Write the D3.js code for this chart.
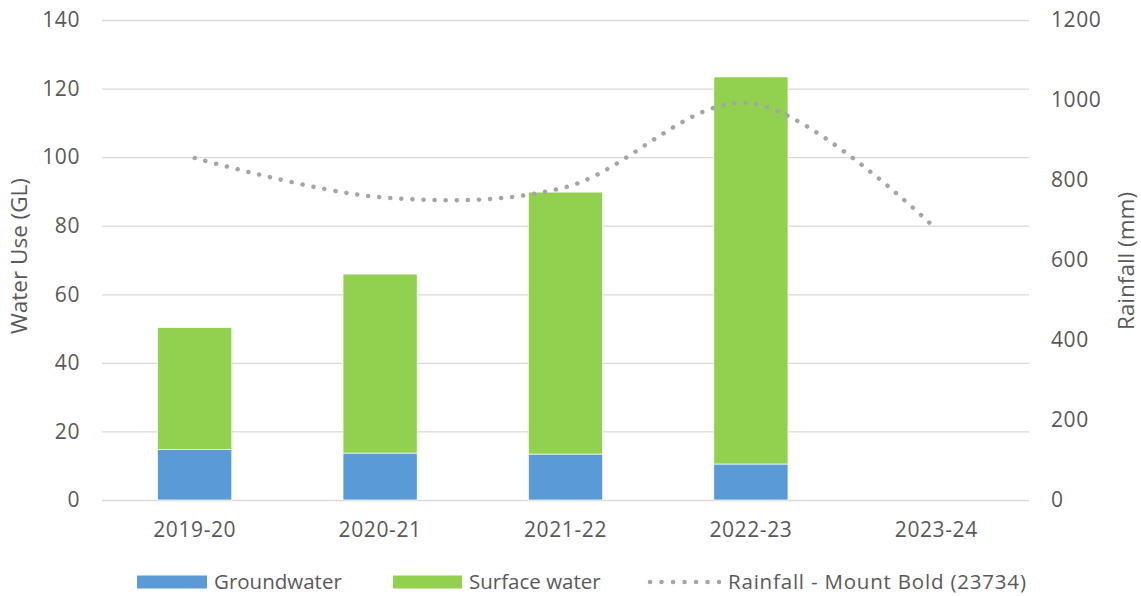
<!DOCTYPE html>
<html>
<head>
<meta charset="utf-8">
<script src="https://cdn.jsdelivr.net/npm/d3@7"></script>
<style>
  html, body { margin: 0; padding: 0; background: #fff; }
  svg text { font-family: "Open Sans", Lato, sans-serif; fill: #595959; }
</style>
</head>
<body>
<svg id="chart" width="1141" height="596"></svg>
<script>
// Water use by source (GL) and annual rainfall at Mount Bold (mm)
const years = ["2019-20", "2020-21", "2021-22", "2022-23", "2023-24"];
const groundwater = [14.7, 13.7, 13.4, 10.5, null];
const surfaceWater = [35.6, 52.2, 76.4, 112.9, null];
const rainfall = [855, 757, 782, 992, 677];
const leftTicks = [0, 20, 40, 60, 80, 100, 120, 140];
const rightTicks = [0, 200, 400, 600, 800, 1000, 1200];

const svg = d3.select("#chart");
const plot = { left: 102, right: 1029, top: 20, bottom: 500 };
const fs = 21;

const x = d3.scaleBand().domain(years).range([plot.left, plot.right]);
const yLeft = d3.scaleLinear().domain([0, 140]).range([plot.bottom, plot.top]);
const yRight = d3.scaleLinear().domain([0, 1200]).range([plot.bottom, plot.top]);
const barW = x.bandwidth() * 0.4;

// gridlines
svg.append("g")
  .attr("transform", `translate(${plot.left},0)`)
  .call(d3.axisLeft(yLeft).tickValues(leftTicks).tickSize(-(plot.right - plot.left)).tickFormat(""))
  .call(g => g.select(".domain").remove())
  .call(g => g.selectAll("line").attr("stroke", "#d9d9d9").attr("stroke-width", 1.3));

const styleTicks = g => g.selectAll("text")
  .attr("font-size", fs).attr("fill", "#595959").attr("letter-spacing", 0.6);

// left axis labels
svg.append("g")
  .attr("transform", `translate(${plot.left - 22},0)`)
  .call(d3.axisLeft(yLeft).tickValues(leftTicks).tickSize(0).tickPadding(0).tickFormat(d3.format("d")))
  .call(g => g.select(".domain").remove())
  .call(styleTicks);

// right axis labels
svg.append("g")
  .attr("transform", `translate(${plot.right + 22},0)`)
  .call(d3.axisRight(yRight).tickValues(rightTicks).tickSize(0).tickPadding(0).tickFormat(d3.format("d")))
  .call(g => g.select(".domain").remove())
  .call(styleTicks);

// category axis labels
svg.append("g")
  .attr("transform", `translate(0,${plot.bottom + 22})`)
  .call(d3.axisBottom(x).tickSize(0).tickPadding(0))
  .call(g => g.select(".domain").remove())
  .call(styleTicks)
  .call(g => g.selectAll("text").attr("dy", "0.71em"));

// stacked bars
const rows = years.map((yr, i) => ({ yr, gw: groundwater[i], sw: surfaceWater[i] }))
  .filter(d => d.gw != null);

svg.append("g").selectAll("rect").data(rows).join("rect")
  .attr("x", d => x(d.yr) + (x.bandwidth() - barW) / 2)
  .attr("width", barW)
  .attr("y", d => yLeft(d.gw))
  .attr("height", d => yLeft(0) - yLeft(d.gw))
  .attr("fill", "#5b9bd5")
  .attr("stroke", "#fff").attr("stroke-width", 0.7);

svg.append("g").selectAll("rect").data(rows).join("rect")
  .attr("x", d => x(d.yr) + (x.bandwidth() - barW) / 2)
  .attr("width", barW)
  .attr("y", d => yLeft(d.gw + d.sw))
  .attr("height", d => yLeft(d.gw) - yLeft(d.gw + d.sw))
  .attr("fill", "#92d050")
  .attr("stroke", "#fff").attr("stroke-width", 0.7);

// rainfall line (smoothed, round dots)
const line = d3.line()
  .x((d, i) => x(years[i]) + x.bandwidth() / 2)
  .y(d => yRight(d))
  .curve(d3.curveCatmullRom.alpha(0));

svg.append("path")
  .datum(rainfall)
  .attr("d", line)
  .attr("fill", "none")
  .attr("stroke", "#a5a5a5")
  .attr("stroke-width", 4.5)
  .attr("stroke-linecap", "round")
  .attr("stroke-dasharray", "0.1 11");

// axis titles
svg.append("text")
  .attr("transform", "translate(27,256) rotate(-90)")
  .attr("text-anchor", "middle")
  .attr("font-size", 22.5)
  .text("Water Use (GL)");

svg.append("text")
  .attr("transform", "translate(1134,261) rotate(-90)")
  .attr("text-anchor", "middle")
  .attr("font-size", 22.5)
  .text("Rainfall (mm)");

// legend
const lg = svg.append("g").attr("transform", "translate(0,582)");
lg.append("rect").attr("x", 137).attr("y", -6.5).attr("width", 70).attr("height", 13).attr("fill", "#5b9bd5");
lg.append("text").attr("x", 214).attr("y", 0).attr("dy", "0.35em").attr("font-size", 20.5)
  .text("Groundwater");
lg.append("rect").attr("x", 393).attr("y", -6.5).attr("width", 69).attr("height", 13).attr("fill", "#92d050");
lg.append("text").attr("x", 469).attr("y", 0).attr("dy", "0.35em").attr("font-size", 20.5)
  .text("Surface water");
lg.append("line").attr("x1", 650).attr("x2", 719).attr("y1", 0).attr("y2", 0)
  .attr("stroke", "#a5a5a5").attr("stroke-width", 4.5)
  .attr("stroke-linecap", "round").attr("stroke-dasharray", "0.1 11.4");
lg.append("text").attr("x", 728).attr("y", 0).attr("dy", "0.35em").attr("font-size", 20.5)
  .attr("letter-spacing", 0.8).text("Rainfall - Mount Bold (23734)");
</script>
</body>
</html>
